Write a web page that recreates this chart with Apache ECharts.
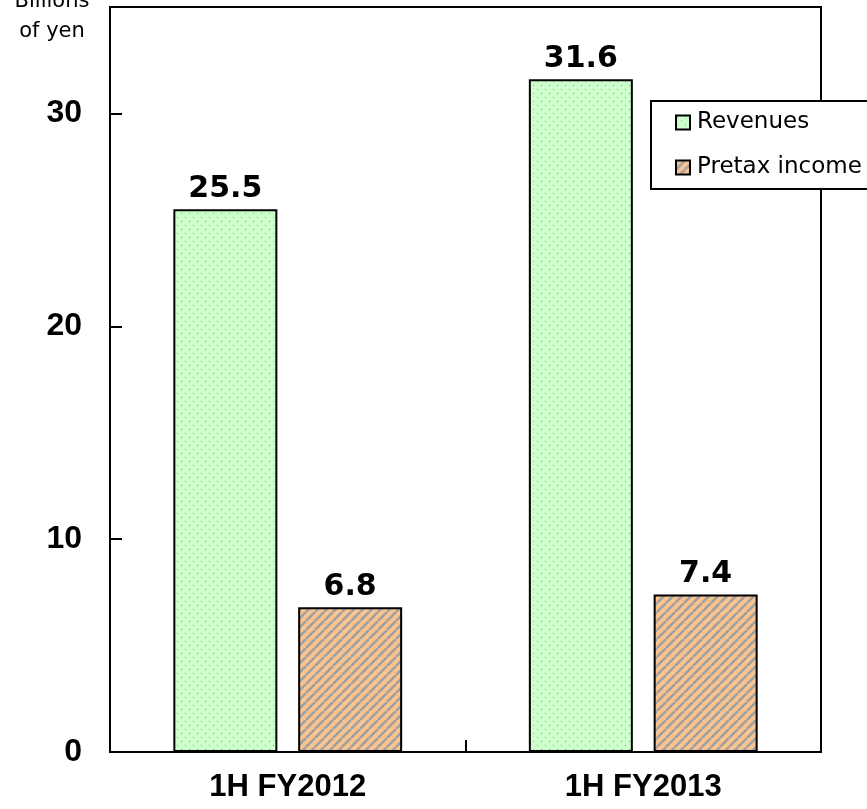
<!DOCTYPE html>
<html><head><meta charset="utf-8">
<script src="https://cdn.jsdelivr.net/npm/echarts@6/dist/echarts.min.js"></script>
<style>html,body{margin:0;padding:0;background:#fff}#c{width:867px;height:809px}</style>
</head><body><div id="c"></div>
<script>
const categories = ['1H FY2012', '1H FY2013'];
const revenues = [25.5, 31.6];
const pretaxIncome = [6.8, 7.4];
const seriesNames = ['Revenues', 'Pretax income'];
const yTicks = [0, 10, 20, 30];

function dotPattern() {
  const c = document.createElement('canvas');
  c.width = 8; c.height = 8;
  const g = c.getContext('2d');
  g.fillStyle = '#ccffcc'; g.fillRect(0, 0, 8, 8);
  g.fillStyle = '#99a899';
  g.fillRect(1, 1, 1, 1);
  g.fillRect(5, 5, 1, 1);
  return c;
}
function stripePattern() {
  const c = document.createElement('canvas');
  c.width = 9; c.height = 9;
  const g = c.getContext('2d');
  g.fillStyle = '#f9c490'; g.fillRect(0, 0, 9, 9);
  g.strokeStyle = '#a0a0a0'; g.lineWidth = 2.6;
  for (let k = -9; k <= 18; k += 9) {
    g.beginPath(); g.moveTo(k, 9); g.lineTo(k + 9, 0); g.stroke();
  }
  return c;
}

const chart = echarts.init(document.getElementById('c'), null, {renderer: 'canvas'});
const labelStyle = {show: true, position: 'top', distance: 5, color: '#000',
  fontFamily: 'DejaVu Sans', fontWeight: 'bold', fontSize: 30};
chart.setOption({
  animation: false,
  backgroundColor: '#fff',
  grid: {left: 110, right: 46, top: 7, bottom: 57, show: true, borderColor: '#000', borderWidth: 2, backgroundColor: 'transparent'},
  legend: {
    left: 651, top: 101, orient: 'vertical', icon: 'rect',
    itemWidth: 14, itemHeight: 14, itemGap: 22,
    padding: [10, 60, 10, 24],
    borderColor: '#000', borderWidth: 2, backgroundColor: '#fff',
    textStyle: {fontFamily: 'DejaVu Sans', fontSize: 23, color: '#000', padding: [0, 0, 0, 2]},
    data: seriesNames
  },
  xAxis: {
    type: 'category', data: categories,
    axisLine: {lineStyle: {color: '#000', width: 2}},
    axisTick: {show: true, inside: true, length: 12, lineStyle: {color: '#000', width: 2}},
    axisLabel: {margin: 20, color: '#000', fontFamily: 'Liberation Sans', fontWeight: 'bold', fontSize: 31}
  },
  yAxis: {
    type: 'value', min: 0, max: 35, interval: 10,
    splitLine: {show: false},
    axisLine: {show: true, lineStyle: {color: '#000', width: 2}},
    axisTick: {show: true, inside: true, length: 12, lineStyle: {color: '#000', width: 2}},
    axisLabel: {margin: 28, color: '#000', fontFamily: 'Liberation Sans', fontWeight: 'bold', fontSize: 32,
      formatter: v => yTicks.includes(v) ? String(v) : ''}
  },
  graphic: [
    {type: 'text', style: {text: 'Billions', x: 52, y: 2, align: 'center', verticalAlign: 'middle',
      font: '21px "DejaVu Sans"', fill: '#000'}},
    {type: 'text', style: {text: 'of yen', x: 52, y: 32, align: 'center', verticalAlign: 'middle',
      font: '21px "DejaVu Sans"', fill: '#000'}}
  ],
  series: [
    {name: seriesNames[0], type: 'bar', data: revenues, barWidth: 104, barGap: '20%',
      itemStyle: {color: {image: dotPattern(), repeat: 'repeat'}, borderColor: '#000', borderWidth: 2},
      label: labelStyle},
    {name: seriesNames[1], type: 'bar', data: pretaxIncome, barWidth: 104, barGap: '20%',
      itemStyle: {color: {image: stripePattern(), repeat: 'repeat'}, borderColor: '#000', borderWidth: 2},
      label: labelStyle}
  ]
});
</script></body></html>
